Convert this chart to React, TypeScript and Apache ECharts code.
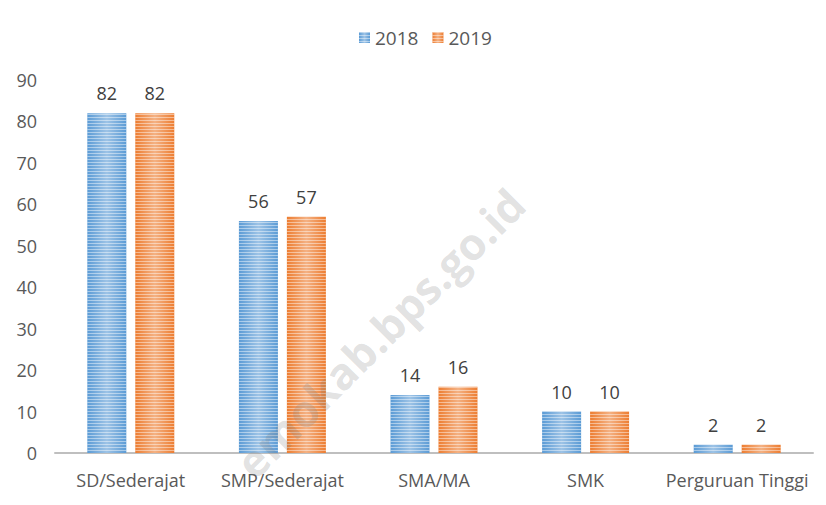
import React, { useEffect, useRef } from "react";
import * as echarts from "echarts";

const categories = ["SD/Sederajat", "SMP/Sederajat", "SMA/MA", "SMK", "Perguruan Tinggi"];
const values2018 = [82, 56, 14, 10, 2];
const values2019 = [82, 57, 16, 10, 2];
const yTicks = { min: 0, max: 90, interval: 10 };

const FONT = "Open Sans";

function stripes(edge: string, mid: string) {
  return {
    type: "linear",
    x: 0, y: 0, x2: 1, y2: 0,
    colorStops: [
      { offset: 0, color: edge },
      { offset: 0.5, color: mid },
      { offset: 1, color: edge },
    ],
  };
}

const decal = {
  symbol: "rect",
  symbolSize: 1,
  dashArrayX: [1, 0],
  dashArrayY: [1, 2],
  color: "rgba(255,255,255,0.45)",
  rotation: 0,
};

export default function App() {
  const ref = useRef<HTMLDivElement>(null);
  useEffect(() => {
    if (!ref.current) return;
    const chart = echarts.init(ref.current, null, { renderer: "svg" });
    const label = {
      show: true,
      position: "top",
      distance: 11,
      color: "#404040",
      fontSize: 18,
      fontFamily: FONT,
    };
    chart.setOption({
      animation: false,
      backgroundColor: "#ffffff",
      legend: {
        top: 23,
        left: 354,
        itemWidth: 11,
        itemHeight: 11,
        itemGap: 14,
        icon: "rect",
        textStyle: { color: "#595959", fontSize: 19, fontFamily: FONT },
        data: ["2018", "2019"],
      },
      grid: { left: 55, right: 13, top: 80, bottom: 52, containLabel: false },
      xAxis: {
        type: "category",
        data: categories,
        axisLine: { lineStyle: { color: "#bfbfbf", width: 2 } },
        axisTick: { show: false },
        axisLabel: { color: "#595959", fontSize: 18, fontFamily: FONT, margin: 18, interval: 0 },
      },
      yAxis: {
        type: "value",
        min: yTicks.min,
        max: yTicks.max,
        interval: yTicks.interval,
        axisLine: { show: false },
        axisTick: { show: false },
        splitLine: { show: false },
        axisLabel: { color: "#595959", fontSize: 18, fontFamily: FONT, margin: 18 },
      },
      series: [
        {
          name: "2018",
          type: "bar",
          data: values2018,
          barWidth: 39,
          barGap: "23%",
          itemStyle: { color: stripes("#5b9bd5", "#9dc3e6"), decal },
          label,
        },
        {
          name: "2019",
          type: "bar",
          data: values2019,
          barWidth: 39,
          itemStyle: { color: stripes("#ed7d31", "#f4b183"), decal },
          label,
        },
      ],
      graphic: [
        {
          type: "text",
          x: 380,
          y: 333,
          rotation: Math.PI / 4,
          z: 100,
          silent: true,
          style: {
            text: "emokab.bps.go.id",
            font: "bold 44px 'Open Sans'",
            fill: "rgba(128,128,128,0.24)",
            align: "center",
            verticalAlign: "middle",
          },
        },
      ],
    });
    return () => chart.dispose();
  }, []);
  return (
    <div
      ref={ref}
      style={{ position: "fixed", left: 0, top: 0, width: 826, height: 505 }}
    />
  );
}
